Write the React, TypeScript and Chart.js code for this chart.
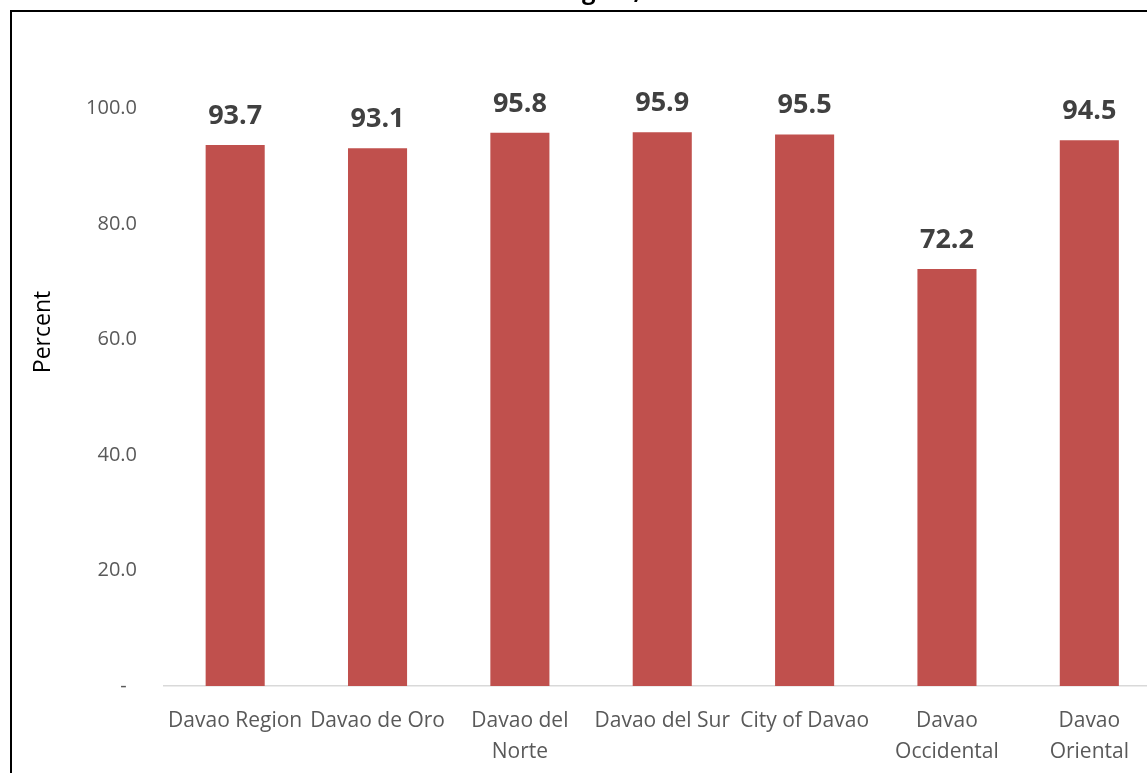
import { useEffect, useRef } from 'react';
import { Chart, registerables } from 'chart.js';

Chart.register(...registerables);

const FONT = "'Open Sans', 'Noto Sans', sans-serif";

const categories: (string | string[])[] = [
  'Davao Region',
  'Davao de Oro',
  ['Davao del', 'Norte'],
  'Davao del Sur',
  'City of Davao',
  ['Davao', 'Occidental'],
  ['Davao', 'Oriental'],
];
const values = [93.7, 93.1, 95.8, 95.9, 95.5, 72.2, 94.5];
const yMin = 0;
const yMax = 100;
const yStep = 20;
const zeroTickLabel = '-  ';
const titleText = 'Davao Region, 2020';
const yAxisTitle = 'Percent';
const barColor = '#c0504d';

const framePlugin = {
  id: 'frame',
  beforeDraw(chart: any) {
    const ctx = chart.ctx;
    ctx.save();
    ctx.fillStyle = '#ffffff';
    ctx.fillRect(0, 0, chart.width, chart.height);
    ctx.strokeStyle = '#000000';
    ctx.lineWidth = 2;
    ctx.strokeRect(11, 11, chart.width + 20, chart.height + 20);
    ctx.fillStyle = '#000000';
    ctx.font = `bold 24px ${FONT}`;
    ctx.textAlign = 'center';
    ctx.textBaseline = 'alphabetic';
    ctx.fillText(titleText, 586, -1.5);
    // y-axis title
    ctx.save();
    ctx.translate(43, 332);
    ctx.rotate(-Math.PI / 2);
    ctx.font = `23px ${FONT}`;
    ctx.textAlign = 'center';
    ctx.textBaseline = 'middle';
    ctx.fillText(yAxisTitle, 0, 0);
    ctx.restore();
    ctx.restore();
  },
  afterDatasetsDraw(chart: any) {
    const ctx = chart.ctx;
    const meta = chart.getDatasetMeta(0);
    ctx.save();
    ctx.fillStyle = '#404040';
    ctx.font = `bold 27px ${FONT}`;
    ctx.textAlign = 'center';
    ctx.textBaseline = 'alphabetic';
    meta.data.forEach((bar: any, i: number) => {
      ctx.fillText(values[i].toFixed(1), bar.x, bar.y - 21);
    });
    ctx.restore();
  },
};

export default function App() {
  const ref = useRef<HTMLCanvasElement | null>(null);

  useEffect(() => {
    if (!ref.current) return;
    const chart = new Chart(ref.current, {
      type: 'bar',
      data: {
        labels: categories as any,
        datasets: [
          {
            data: values,
            backgroundColor: barColor,
            borderWidth: 0,
            barPercentage: 0.415,
            categoryPercentage: 1,
          },
        ],
      },
      options: {
        responsive: false,
        animation: false,
        devicePixelRatio: 1,
        layout: {
          padding: { left: 31, right: 39.5, top: 108.5, bottom: 14 },
        },
        plugins: {
          legend: { display: false },
          title: { display: false },
          tooltip: { enabled: false },
        },
        scales: {
          x: {
            grid: { display: false, drawTicks: false },
            border: { display: true, color: '#d9d9d9', width: 1.5 },
            ticks: {
              color: '#595959',
              font: { family: FONT, size: 21, lineHeight: 1.5 },
              padding: 19,
              maxRotation: 0,
              minRotation: 0,
              autoSkip: false,
            },
            afterFit: (scale: any) => {
              scale.height = 100;
            },
          },
          y: {
            min: yMin,
            max: yMax,
            grid: { display: false, drawTicks: false },
            border: { display: false },
            ticks: {
              stepSize: yStep,
              color: '#595959',
              font: { family: FONT, size: 20 },
              padding: 27,
              callback: (v: any) => (Number(v) === 0 ? zeroTickLabel : Number(v).toFixed(1)),
            },
            afterFit: (scale: any) => {
              scale.width = 133;
            },
          },
        },
      },
      plugins: [framePlugin],
    });
    return () => chart.destroy();
  }, []);

  return (
    <div
      style={{
        position: 'fixed',
        left: 0,
        top: 0,
        width: 1147,
        height: 773,
        overflow: 'hidden',
        background: '#fff',
      }}
    >
      <canvas ref={ref} width={1200} height={800} style={{ display: 'block', width: 1200, height: 800 }} />
    </div>
  );
}
